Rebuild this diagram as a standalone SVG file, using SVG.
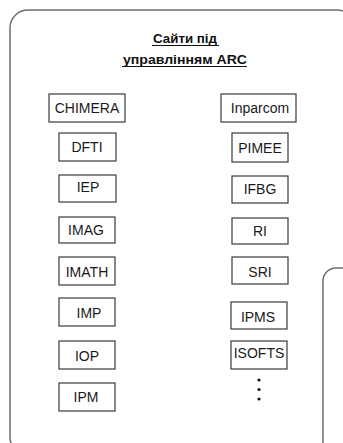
<svg xmlns="http://www.w3.org/2000/svg" width="343" height="443" viewBox="0 0 343 443">
  <style>
    .frame { fill: none; stroke: #6e6e6e; stroke-width: 1.5; }
    .box rect { fill: #ffffff; stroke: #3a3a3a; stroke-width: 1.2; }
    .box text { font-family: "Liberation Sans", Arial, sans-serif; font-size: 14px; fill: #1a1a1a; text-anchor: middle; }
    .title { font-family: "Liberation Sans", Arial, sans-serif; font-size: 13px; font-weight: bold; fill: #111111; text-anchor: middle; }
    .uline { stroke: #111111; stroke-width: 1; }
    .dot { fill: #111111; }
  </style>
  <rect width="343" height="443" fill="#ffffff"/>

  <!-- outer group frame (runs past the right and bottom edges) -->
  <rect id="frame-arc" class="frame" x="10" y="10" width="345" height="445" rx="18" ry="18"/>
  <!-- neighbouring frame, partly visible on the right -->
  <rect id="frame-next" class="frame" x="323" y="268" width="60" height="200" rx="13" ry="13"/>

  <!-- heading -->
  <g id="heading">
    <text class="title" x="185" y="42.5" textLength="64" lengthAdjust="spacingAndGlyphs">Сайти під</text>
    <line class="uline" x1="152" y1="45.5" x2="219" y2="45.5"/>
    <text class="title" x="185" y="63.5" textLength="124" lengthAdjust="spacingAndGlyphs">управлінням ARC</text>
    <line class="uline" x1="122" y1="66.5" x2="247" y2="66.5"/>
  </g>

  <!-- left column -->
  <g id="chimera" class="box"><rect x="49" y="94" width="76" height="28"/><text x="87" y="113">CHIMERA</text></g>
  <g id="dfti" class="box"><rect x="59" y="133" width="57" height="28"/><text x="87" y="152">DFTI</text></g>
  <g id="iep" class="box"><rect x="59" y="175" width="57" height="27"/><text x="88" y="192">IEP</text></g>
  <g id="imag" class="box"><rect x="59" y="217" width="56" height="26"/><text x="86" y="235">IMAG</text></g>
  <g id="imath" class="box"><rect x="59" y="257" width="56" height="28"/><text x="87" y="277">IMATH</text></g>
  <g id="imp" class="box"><rect x="59" y="298" width="56" height="28"/><text x="89" y="318">IMP</text></g>
  <g id="iop" class="box"><rect x="59" y="341" width="56" height="28"/><text x="87" y="361">IOP</text></g>
  <g id="ipm" class="box"><rect x="59" y="383" width="56" height="28"/><text x="86" y="402">IPM</text></g>

  <!-- right column -->
  <g id="inparcom" class="box"><rect x="221" y="94" width="75" height="28"/><text x="260" y="113">Inparcom</text></g>
  <g id="pimee" class="box"><rect x="232" y="133" width="56" height="29"/><text x="260" y="153">PIMEE</text></g>
  <g id="ifbg" class="box"><rect x="232" y="176" width="56" height="27"/><text x="260" y="194">IFBG</text></g>
  <g id="ri" class="box"><rect x="232" y="218" width="56" height="26"/><text x="260" y="236">RI</text></g>
  <g id="sri" class="box"><rect x="232" y="257" width="56" height="27"/><text x="260" y="277">SRI</text></g>
  <g id="ipms" class="box"><rect x="231" y="302" width="56" height="27"/><text x="258" y="322">IPMS</text></g>
  <g id="isofts" class="box"><rect x="231" y="341" width="56" height="28"/><text x="259" y="358">ISOFTS</text></g>

  <!-- continuation marks -->
  <g id="more">
    <circle class="dot" cx="259" cy="380" r="1.6"/>
    <circle class="dot" cx="259" cy="389.5" r="1.6"/>
    <circle class="dot" cx="259" cy="399" r="1.6"/>
  </g>
</svg>
